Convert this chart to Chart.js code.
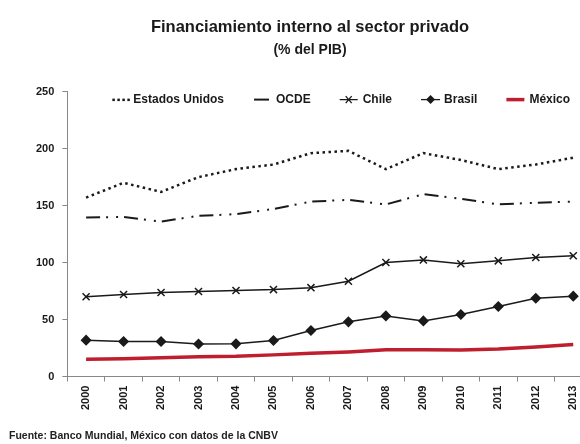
<!DOCTYPE html>
<html>
<head>
<meta charset="utf-8">
<script src="https://cdn.jsdelivr.net/npm/chart.js@4"></script>
<style>
  html, body { margin: 0; padding: 0; background: #fff; overflow: hidden; }
  #wrap { position: relative; width: 580px; height: 444px; overflow: hidden; }
  #chart { position: absolute; left: 0; top: 0; }
  #fuente { position: absolute; left: 9px; top: 429px; font: bold 10.5px "Liberation Sans", Arial, sans-serif; color: #222; white-space: nowrap; }
</style>
</head>
<body>
<div id="wrap">
  <canvas id="chart" width="614" height="444"></canvas>
  <div id="fuente">Fuente: Banco Mundial, México con datos de la CNBV</div>
</div>
<script>
const years = ['2000', '2001', '2002', '2003', '2004', '2005', '2006', '2007', '2008', '2009', '2010', '2011', '2012', '2013'];
const estadosUnidos = [157, 170, 162, 175, 182, 186, 196, 198, 182, 196, 190, 182, 186, 192];
const ocde = [139.5, 140, 136, 141, 142.5, 147, 153.5, 155, 151, 160, 156, 151, 152.5, 153.5];
const chile = [70, 72, 73.7, 74.6, 75.5, 76.3, 78, 83.6, 100, 102.3, 99, 101.5, 104.4, 106];
const brasil = [31.9, 30.7, 30.7, 28.5, 28.7, 31.6, 40.4, 48, 53.2, 48.8, 54.4, 61.4, 68.7, 70.5];
const mexico = [15.2, 15.6, 16.5, 17.4, 17.8, 19, 20.5, 21.6, 23.4, 23.4, 23.3, 24.2, 26, 28];
const yTicks = [0, 50, 100, 150, 200, 250];

const fontFam = '"Liberation Sans", Arial, sans-serif';
const ink = '#1a1a1a';
const red = '#be1e2d';

// legend markers, drawn at (x, y) = left, middle
function mkUS(ctx, x, y) {
  for (let i = 2; i < 18; i += 5) ctx.fillRect(x + i, y - 1, 2.5, 2.5);
}
function mkOCDE(ctx, x, y) {
  ctx.lineWidth = 2;
  ctx.beginPath(); ctx.moveTo(x + 1, y); ctx.lineTo(x + 16, y); ctx.stroke();
}
function mkChile(ctx, x, y) {
  ctx.lineWidth = 1.3;
  ctx.beginPath(); ctx.moveTo(x, y); ctx.lineTo(x + 18, y);
  ctx.moveTo(x + 6, y - 3.5); ctx.lineTo(x + 12, y + 3.5); ctx.moveTo(x + 12, y - 3.5); ctx.lineTo(x + 6, y + 3.5); ctx.stroke();
}
function mkBrasil(ctx, x, y) {
  ctx.lineWidth = 1.3;
  ctx.beginPath(); ctx.moveTo(x, y); ctx.lineTo(x + 19, y); ctx.stroke();
  ctx.beginPath(); ctx.moveTo(x + 9.5, y - 4.5); ctx.lineTo(x + 14, y); ctx.lineTo(x + 9.5, y + 4.5); ctx.lineTo(x + 5, y); ctx.closePath(); ctx.fill();
}
function mkMexico(ctx, x, y) {
  ctx.strokeStyle = red;
  ctx.lineWidth = 3.5;
  ctx.beginPath(); ctx.moveTo(x, y); ctx.lineTo(x + 18, y); ctx.stroke();
}
const markers = [mkUS, mkOCDE, mkChile, mkBrasil, mkMexico];

// legend inside the plot, one row near the top
const insideLegend = {
  id: 'insideLegend',
  afterDatasetsDraw(c) {
    const ctx = c.ctx;
    const area = c.chartArea;
    let x = area.left + 43;
    const y = area.top + 8;
    ctx.save();
    ctx.font = 'bold 12px ' + fontFam;
    ctx.textBaseline = 'middle';
    c.data.datasets.forEach(function (ds, i) {
      ctx.strokeStyle = ink;
      ctx.fillStyle = ink;
      markers[i](ctx, x, y);
      x += 19;
      ctx.fillStyle = ink;
      ctx.fillText(ds.label, x + 4, y);
      x += 4 + ctx.measureText(ds.label).width + 29;
    });
    ctx.restore();
  }
};

const chart = new Chart(document.getElementById('chart'), {
  type: 'line',
  data: {
    labels: years,
    datasets: [
      { label: 'Estados Unidos', data: estadosUnidos, borderColor: ink, borderWidth: 2.5, borderDash: [2.5, 3.5], pointRadius: 0 },
      { label: 'OCDE', data: ocde, borderColor: ink, borderWidth: 2, borderDash: [14, 6, 2, 8, 2, 6], pointRadius: 0 },
      { label: 'Chile', data: chile, borderColor: ink, borderWidth: 1.5, pointStyle: 'crossRot', pointRadius: 5, pointBorderWidth: 1.5, pointBorderColor: ink },
      { label: 'Brasil', data: brasil, borderColor: ink, borderWidth: 1.5, pointStyle: 'rectRot', pointRadius: 4.5, pointBackgroundColor: ink, pointBorderColor: ink },
      { label: 'México', data: mexico, borderColor: red, borderWidth: 3.5, pointRadius: 0 }
    ]
  },
  options: {
    responsive: false,
    animation: false,
    layout: { padding: { left: 28, right: 22, bottom: 30, top: 0 } },
    plugins: {
      title: {
        display: true,
        text: 'Financiamiento interno al sector privado',
        color: ink,
        font: { family: fontFam, size: 16.5, weight: 'bold' },
        padding: { top: 18, bottom: 4 }
      },
      subtitle: {
        display: true,
        text: '(% del PIB)',
        color: ink,
        font: { family: fontFam, size: 14, weight: 'bold' },
        padding: { top: 0, bottom: 33 }
      },
      legend: { display: false },
      tooltip: { enabled: false }
    },
    scales: {
      x: {
        offset: true,
        grid: { offset: true, drawOnChartArea: false, color: '#888', tickLength: 5 },
        border: { color: '#888' },
        ticks: { color: ink, font: { family: fontFam, size: 11, weight: 'bold' }, minRotation: 90, maxRotation: 90, padding: 4 }
      },
      y: {
        min: 0,
        max: 250,
        afterBuildTicks: function (axis) { axis.ticks = yTicks.map(function (v) { return { value: v }; }); },
        grid: { drawOnChartArea: false, color: '#888', tickLength: 5 },
        border: { color: '#888' },
        ticks: { color: ink, font: { family: fontFam, size: 11, weight: 'bold' }, padding: 8 }
      }
    }
  },
  plugins: [insideLegend]
});
</script>
</body>
</html>
